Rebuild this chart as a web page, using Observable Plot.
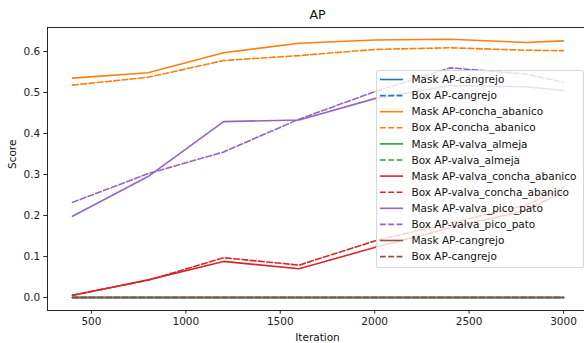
<!DOCTYPE html>
<html>
<head>
<meta charset="utf-8">
<script src="https://cdn.jsdelivr.net/npm/d3@7"></script>
<script src="https://cdn.jsdelivr.net/npm/@observablehq/plot@0.6"></script>
<style>
  html, body { margin: 0; padding: 0; background: #fff; }
  #wrap { position: relative; width: 584px; height: 343px; overflow: hidden; font-family: "DejaVu Sans", sans-serif; }
  #legend { position: absolute; left: 376px; top: 70px; width: 206px; height: 196px;
    background: rgba(255,255,255,0.8); border: 1px solid rgba(204,204,204,0.8); border-radius: 3px; }
  #legend svg { display: block; }
</style>
</head>
<body>
<div id="wrap"></div>
<script>
const iterations = [400, 800, 1200, 1600, 2000, 2400, 2800, 3000];
const maskCangrejo = [0, 0, 0, 0, 0, 0, 0, 0];
const boxCangrejo = [0, 0, 0, 0, 0, 0, 0, 0];
const maskConchaAbanico = [0.535, 0.548, 0.597, 0.620, 0.628, 0.630, 0.622, 0.626];
const boxConchaAbanico = [0.518, 0.537, 0.578, 0.590, 0.605, 0.609, 0.603, 0.602];
const maskValvaAlmeja = [0, 0, 0, 0, 0, 0, 0, 0];
const boxValvaAlmeja = [0, 0, 0, 0, 0, 0, 0, 0];
const maskValvaConchaAbanico = [0.005, 0.043, 0.088, 0.070, 0.122, 0.170, 0.212, 0.258];
const boxValvaConchaAbanico = [0.006, 0.042, 0.097, 0.079, 0.138, 0.182, 0.225, 0.268];
const maskValvaPicoPato = [0.198, 0.295, 0.429, 0.433, 0.485, 0.517, 0.514, 0.505];
const boxValvaPicoPato = [0.232, 0.302, 0.355, 0.435, 0.502, 0.560, 0.545, 0.525];
const maskCangrejo2 = [0, 0, 0, 0, 0, 0, 0, 0];
const boxCangrejo2 = [0, 0, 0, 0, 0, 0, 0, 0];

const seriesNames = [
  "Mask AP-cangrejo", "Box AP-cangrejo",
  "Mask AP-concha_abanico", "Box AP-concha_abanico",
  "Mask AP-valva_almeja", "Box AP-valva_almeja",
  "Mask AP-valva_concha_abanico", "Box AP-valva_concha_abanico",
  "Mask AP-valva_pico_pato", "Box AP-valva_pico_pato",
  "Mask AP-cangrejo", "Box AP-cangrejo"
];
const seriesValues = [
  maskCangrejo, boxCangrejo, maskConchaAbanico, boxConchaAbanico,
  maskValvaAlmeja, boxValvaAlmeja, maskValvaConchaAbanico, boxValvaConchaAbanico,
  maskValvaPicoPato, boxValvaPicoPato, maskCangrejo2, boxCangrejo2
];
const palette = ["#1f77b4", "#ff7f0e", "#2ca02c", "#d62728", "#9467bd", "#8c564b"];
const xTicks = [500, 1000, 1500, 2000, 2500, 3000];
const yTicks = [0.0, 0.1, 0.2, 0.3, 0.4, 0.5, 0.6];

const series = seriesNames.map((name, i) => ({
  name, color: palette[Math.floor(i / 2)], dashed: i % 2 === 1,
  rows: iterations.map((it, j) => ({ iteration: it, score: seriesValues[i][j] }))
}));

const LW = 1.6;
const DASH = "5.8,2.5";
const FS = 10.5;

const lineMarks = series.map(s => Plot.line(s.rows, {
  x: "iteration", y: "score", stroke: s.color, strokeWidth: LW,
  strokeDasharray: s.dashed ? DASH : null
}));

const chart = Plot.plot({
  width: 584, height: 343,
  marginLeft: 47, marginRight: 0, marginTop: 27, marginBottom: 33,
  style: { fontFamily: "DejaVu Sans, sans-serif", fontSize: FS + "px", color: "#000", background: "#fff" },
  x: { domain: [267.6, 3111], ticks: xTicks, tickFormat: d => String(d) },
  y: { domain: [-0.0317, 0.6585], ticks: yTicks, tickFormat: d => d.toFixed(1) },
  marks: [
    ...lineMarks,
    Plot.frame({ stroke: "#000", strokeWidth: 0.85 }),
    Plot.axisX({ ticks: xTicks, tickSize: 3.7, tickPadding: 3.5, tickFormat: d => String(d), label: null, strokeWidth: 0.85, fontSize: FS, fill: "#222" }),
    Plot.axisY({ ticks: yTicks, tickSize: 3.7, tickPadding: 3.5, tickFormat: d => d.toFixed(1), label: null, strokeWidth: 0.85, fontSize: FS, fill: "#222" }),
    Plot.text(["AP"], { frameAnchor: "top", lineAnchor: "middle", dy: -12.7, dx: 1.5, text: d => d, fontSize: 12.5, fill: "#111" }),
    Plot.text(["Iteration"], { frameAnchor: "bottom", lineAnchor: "middle", dy: 27, dx: 1.5, text: d => d, fontSize: FS, fill: "#111" }),
    Plot.text(["Score"], { frameAnchor: "left", dx: -35, rotate: -90, text: d => d, fontSize: FS, fill: "#111" })
  ]
});

const wrap = document.getElementById("wrap");
wrap.appendChild(chart);

// legend
const legend = document.createElement("div");
legend.id = "legend";
wrap.appendChild(legend);
const lsvg = d3.select(legend).append("svg").attr("width", 206).attr("height", 196);
series.forEach((s, i) => {
  const y = 8.5 + i * 16.1;
  lsvg.append("line").attr("x1", 3).attr("x2", 26).attr("y1", y).attr("y2", y)
    .attr("stroke", s.color).attr("stroke-width", LW)
    .attr("stroke-dasharray", s.dashed ? DASH : null);
  lsvg.append("text").attr("x", 34.5).attr("y", y).attr("dy", "0.35em")
    .attr("font-family", "DejaVu Sans, sans-serif").attr("font-size", FS).attr("fill", "#111")
    .text(s.name);
});
</script>
</body>
</html>
